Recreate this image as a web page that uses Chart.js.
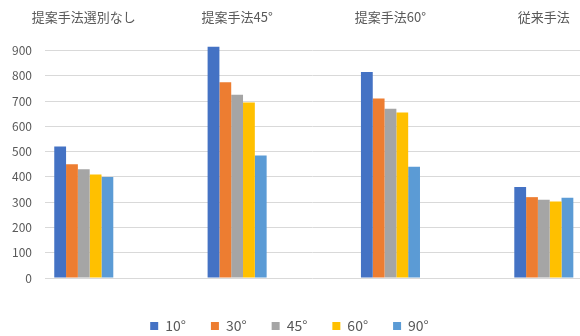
<!DOCTYPE html>
<html>
<head>
<meta charset="utf-8">
<script src="https://cdn.jsdelivr.net/npm/chart.js@4"></script>
<style>
  html, body { margin: 0; padding: 0; background: #fff; }
</style>
</head>
<body>
<canvas id="c" width="580" height="336"></canvas>
<script>
// categories (shown along the top) and angle series
const categories = ['提案手法選別なし', '提案手法45°', '提案手法60°', '従来手法'];
const seriesNames = ['10°', '30°', '45°', '60°', '90°'];
const s10 = [520, 915, 815, 360];
const s30 = [450, 775, 710, 320];
const s45 = [430, 725, 670, 310];
const s60 = [410, 695, 655, 303];
const s90 = [400, 485, 440, 318];
const yTicks = [0, 100, 200, 300, 400, 500, 600, 700, 800, 900];

const colors = ['#4472C4', '#ED7D31', '#A5A5A5', '#FFC000', '#5B9BD5'];
const font = "'Noto Sans CJK JP', 'Noto Sans', sans-serif";
const grey = '#595959';

const series = [s10, s30, s45, s60, s90];

new Chart(document.getElementById('c'), {
    type: 'bar',
    data: {
        datasets: series.map((vals, k) => ({
            label: seriesNames[k],
            data: vals.map((v, i) => ({ x: i, y: v })),
            backgroundColor: colors[k],
            borderWidth: 0,
            categoryPercentage: 0.385,
            barPercentage: 1.0,
            clip: false,
        }))
    },
    options: {
        responsive: false,
        animation: false,
        maintainAspectRatio: false,
        layout: { padding: { left: -1, right: 0, top: -17, bottom: -7 } },
        scales: {
            x: {
                type: 'linear',
                position: 'top',
                offset: false,
                min: -0.253,
                max: 3.236,
                bounds: 'data',
                afterBuildTicks(axis) {
                    axis.ticks = categories.map((c, i) => ({ value: i }));
                },
                afterFit(axis) {
                    // labels sit inside the plot width, no side padding needed
                    axis.paddingLeft = 0;
                    axis.paddingRight = 0;
                },
                grid: { display: false, drawTicks: false, offset: false },
                border: { display: false },
                ticks: {
                    autoSkip: false,
                    maxRotation: 0,
                    padding: 26,
                    color: grey,
                    font: { family: font, size: 13 },
                    callback: v => categories[v]
                }
            },
            y: {
                min: 0,
                max: 900,
                afterBuildTicks(axis) {
                    axis.ticks = yTicks.map(v => ({ value: v }));
                },
                grid: { color: '#d9d9d9', lineWidth: 1, drawTicks: false },
                border: { display: false },
                ticks: {
                    padding: 13,
                    color: grey,
                    font: { family: font, size: 12 }
                }
            }
        },
        plugins: {
            tooltip: { enabled: false },
            legend: {
                position: 'bottom',
                title: { display: true, text: '', font: { size: 10, lineHeight: 1 }, padding: { top: 6, bottom: 0 } },
                labels: {
                    boxWidth: 8,
                    boxHeight: 8,
                    padding: 25,
                    color: grey,
                    font: { family: font, size: 14 }
                }
            }
        }
    }
});
</script>
</body>
</html>
